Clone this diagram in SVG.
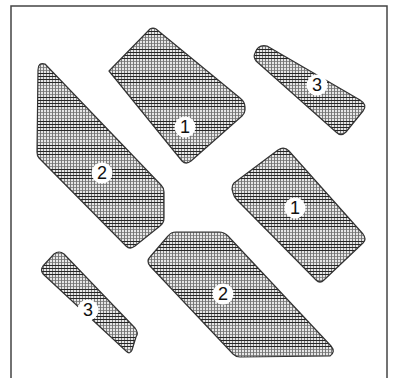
<svg xmlns="http://www.w3.org/2000/svg" width="394" height="378" viewBox="0 0 394 378">
<defs>
<pattern id="hatch" patternUnits="userSpaceOnUse" width="3" height="24">
<rect width="3" height="24" fill="#e6e6e6"/>
<line x1="1.5" y1="0" x2="1.5" y2="24" stroke="#606060" stroke-width="0.8"/>
<g stroke="#262626" stroke-width="1">
<line x1="0" y1="1.5" x2="3" y2="1.5"/><line x1="0" y1="4.5" x2="3" y2="4.5"/><line x1="0" y1="7.5" x2="3" y2="7.5"/><line x1="0" y1="10.5" x2="3" y2="10.5"/>
</g>
<g stroke="#707070" stroke-width="0.75">
<line x1="0" y1="13.5" x2="3" y2="13.5"/><line x1="0" y1="16.5" x2="3" y2="16.5"/><line x1="0" y1="19.5" x2="3" y2="19.5"/><line x1="0" y1="22.5" x2="3" y2="22.5"/>
</g>
</pattern>
</defs>
<style>
.piece{fill:url(#hatch);stroke:#333;stroke-width:1.2;stroke-linejoin:round}
.badge{fill:#fff;stroke:none}
.num{font-family:"Liberation Sans","DejaVu Sans",sans-serif;font-size:18px;fill:#111;text-anchor:middle;dominant-baseline:central}
.frame{fill:none;stroke:#444;stroke-width:1.5}
</style>
<rect class="frame" x="11" y="6" width="376" height="380"/>
<g id="piece-1a">
<path class="piece" d="M 109,71 L 150,29 Q 153,27 156,29 L 240,98 Q 245,102 245,107 L 245,110 Q 245,113 242,116 L 191,161 Q 186,165 182,161 Z"/>
<circle class="badge" cx="185" cy="127" r="10.5"/><text class="num" x="185" y="127">1</text>
</g>
<g id="piece-3a">
<path class="piece" d="M 255,53 Q 258,44 267,46 L 360,100 Q 368,105 363,111 L 346,132 Q 341,137 336,132 L 256,61 Q 253,57 255,53 Z"/>
<circle class="badge" cx="317" cy="85" r="10.5"/><text class="num" x="317" y="85">3</text>
</g>
<g id="piece-2a">
<path class="piece" d="M 38,70 Q 38,62 45,64 L 161,185 Q 164,188 164,192 L 164,218 Q 164,223 160,226 L 135,246 Q 130,250 126,246 L 39,158 Q 37,156 37,152 Z"/>
<circle class="badge" cx="102" cy="173" r="10.5"/><text class="num" x="102" y="173">2</text>
</g>
<g id="piece-1b">
<path class="piece" d="M 234,183 L 278,150 Q 284,146 289,151 L 363,234 Q 367,239 363,243 L 324,280 Q 320,284 316,280 L 237,200 Q 234,197 233,193 L 232,189 Q 232,185 234,183 Z"/>
<circle class="badge" cx="295" cy="208" r="10.5"/><text class="num" x="295" y="208">1</text>
</g>
<g id="piece-2b">
<path class="piece" d="M 150,257 L 168,236 Q 171,232 176,232 L 219,232 Q 224,232 228,236 L 331,346 Q 336,352 330,356 L 240,357 Q 236,357 233,354 L 150,266 Q 146,261 150,257 Z"/>
<circle class="badge" cx="223" cy="294" r="10.5"/><text class="num" x="223" y="294">2</text>
</g>
<g id="piece-3b">
<path class="piece" d="M 43,266 L 54,254 Q 59,250 64,254 L 135,328 Q 139,333 136,337 L 132,350 Q 130,355 126,351 L 43,274 Q 40,270 43,266 Z"/>
<circle class="badge" cx="88" cy="310" r="10.5"/><text class="num" x="88" y="310">3</text>
</g>
</svg>
